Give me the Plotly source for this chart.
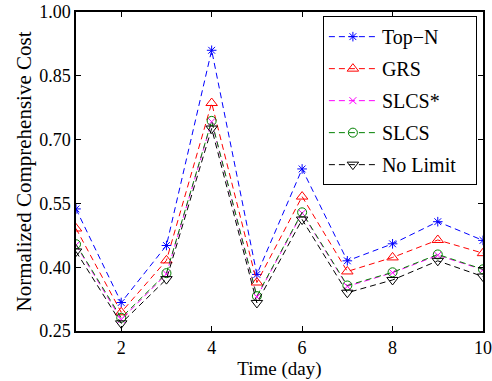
import plotly.graph_objects as go

days = [1, 2, 3, 4, 5, 6, 7, 8, 9, 10]
top_n = [0.537, 0.317, 0.451, 0.910, 0.383, 0.631, 0.415, 0.455, 0.507, 0.463]
grs = [0.491, 0.294, 0.416, 0.786, 0.364, 0.566, 0.390, 0.423, 0.464, 0.433]
slcs_star = [0.452, 0.277, 0.384, 0.742, 0.330, 0.527, 0.355, 0.387, 0.428, 0.394]
slcs = [0.454, 0.281, 0.386, 0.744, 0.332, 0.529, 0.357, 0.388, 0.430, 0.395]
no_limit = [0.437, 0.268, 0.372, 0.726, 0.316, 0.512, 0.340, 0.370, 0.415, 0.378]

series = [
    ("Top\u2212N", top_n, "#0000ff", "asterisk-open", 8),
    ("GRS", grs, "#ff0000", "triangle-up-open", 10),
    ("SLCS*", slcs_star, "#ff00ff", "x-thin-open", 7),
    ("SLCS", slcs, "#008000", "circle-open", 9),
    ("No Limit\u00a0\u00a0\u00a0", no_limit, "#000000", "triangle-down-open", 10),
]

fig = go.Figure()
for i, (name, vals, color, sym, sz) in enumerate(series):
    fig.add_trace(go.Scatter(
        x=days, y=vals, name=name, mode="lines+markers",
        legendgroup=f"g{i}",
        line=dict(color=color, width=1, dash="6px,4px"),
        marker=dict(symbol=sym, size=sz, color=color, line=dict(color=color, width=1)),
    ))

font = "Liberation Serif"
fig.update_layout(
    width=492, height=381,
    margin=dict(l=76, r=9, t=12, b=50),
    paper_bgcolor="white", plot_bgcolor="white",
    font=dict(family=font, size=18, color="black"),
    showlegend=True,
    legend=dict(
        x=0.985, y=0.987, xanchor="right", yanchor="top",
        bordercolor="black", borderwidth=1, bgcolor="white",
        font=dict(family=font, size=20),
        tracegroupgap=3, traceorder="grouped",
        itemwidth=48,
    ),
    xaxis=dict(
        range=[1, 10], tickvals=[2, 4, 6, 8, 10],
        showgrid=False, zeroline=False, automargin=False,
        showline=True, linecolor="black", linewidth=1.5, mirror="ticks",
        ticks="inside", ticklen=5, tickcolor="black",
        title=dict(text="Time (day)", font=dict(family=font, size=19), standoff=2),
        tickfont=dict(family=font, size=18),
    ),
    yaxis=dict(
        range=[0.25, 1.0], tickvals=[0.25, 0.40, 0.55, 0.70, 0.85, 1.00],
        ticktext=["0.25", "0.40", "0.55", "0.70", "0.85", "1.00"],
        showgrid=False, zeroline=False, automargin=False,
        showline=True, linecolor="black", linewidth=1.5, mirror="ticks",
        ticks="inside", ticklen=5, tickcolor="black",
        title=dict(text="Normalized Comprehensive Cost", font=dict(family=font, size=21), standoff=2),
        tickfont=dict(family=font, size=18),
    ),
)
fig.write_html("out.html")
